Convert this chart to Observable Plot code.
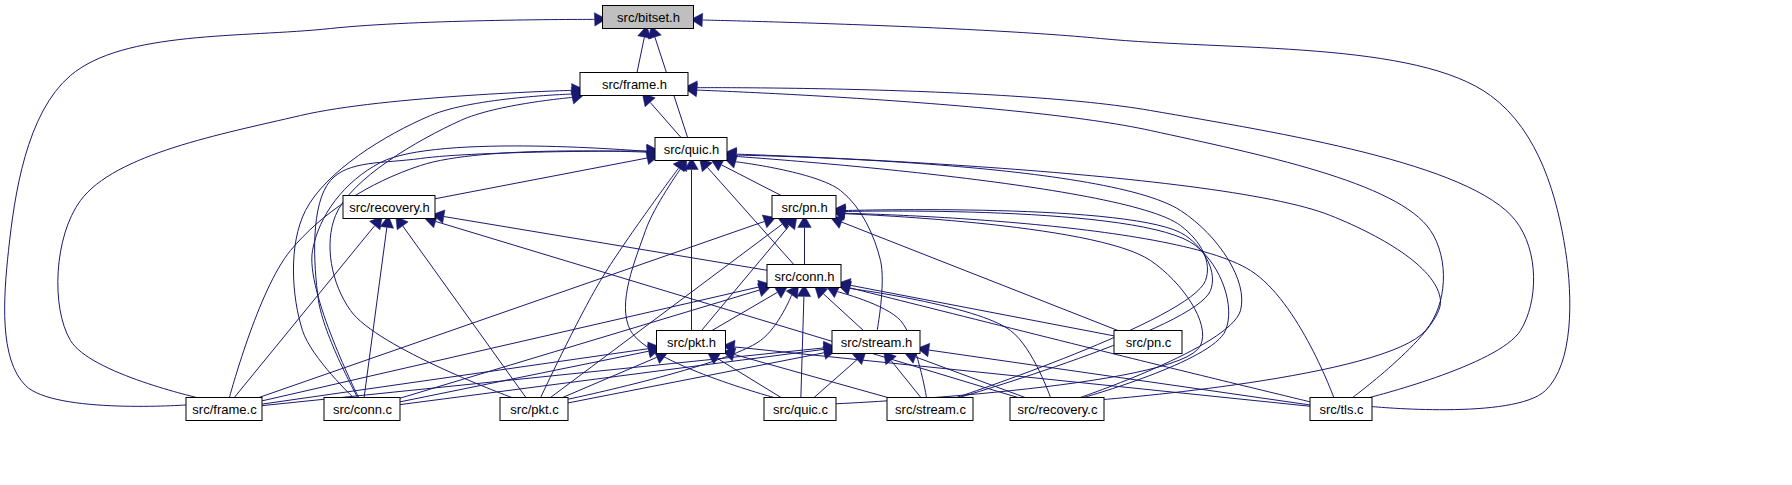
<!doctype html>
<html>
<head>
<style>body{margin:0;background:#fff}</style>
</head>
<body>
<div id="graph"></div>
<script src="https://cdn.jsdelivr.net/npm/d3@7"></script>
<script src="https://cdn.jsdelivr.net/npm/@observablehq/plot@0.6"></script>
<script>
// nodes: name, center x, center y, box width
const names = ["src/bitset.h","src/frame.h","src/quic.h","src/recovery.h","src/pn.h","src/conn.h","src/pkt.h","src/stream.h","src/pn.c","src/frame.c","src/conn.c","src/pkt.c","src/quic.c","src/stream.c","src/recovery.c","src/tls.c"];
const nodeX = [648,634,691,389,804,804,691,876,1148,224,362,534,800,930,1057,1341];
const nodeY = [17,84,149,207,207,276,342,342,342,409,409,409,409,409,409,409];
const nodeW = [91,108,72,92,64,74,69,88,68,76,76,68,72,86,94,62];
const boxH = 23;

// edges: [including file, included header, bend points from file to header]
const edges = [
  ["src/frame.h","src/bitset.h",[]],
  ["src/quic.h","src/bitset.h",[]],
  ["src/frame.c","src/bitset.h",[[25,385],[8,250],[70,75],[330,28]]],
  ["src/tls.c","src/bitset.h",[[1545,390],[1565,250],[1490,95],[1100,38]]],
  ["src/quic.h","src/frame.h",[]],
  ["src/frame.c","src/frame.h",[[70,340],[80,200],[300,115]]],
  ["src/conn.c","src/frame.h",[[302,330],[305,210],[430,115]]],
  ["src/pkt.c","src/frame.h",[[350,310],[335,215],[460,120]]],
  ["src/recovery.c","src/frame.h",[[1425,330],[1430,230],[1150,130]]],
  ["src/tls.c","src/frame.h",[[1520,330],[1515,220],[1150,110]]],
  ["src/recovery.h","src/quic.h",[]],
  ["src/pn.h","src/quic.h",[]],
  ["src/conn.h","src/quic.h",[]],
  ["src/pkt.h","src/quic.h",[]],
  ["src/stream.h","src/quic.h",[[880,260],[840,190]]],
  ["src/frame.c","src/quic.h",[[290,250],[420,165]]],
  ["src/conn.c","src/quic.h",[[312,250],[380,162]]],
  ["src/conn.c","src/quic.h",[[318,300],[330,180],[420,158]]],
  ["src/pkt.c","src/quic.h",[[600,280]]],
  ["src/quic.c","src/quic.h",[[630,330],[645,230]]],
  ["src/recovery.c","src/quic.h",[[1240,310],[1180,210]]],
  ["src/tls.c","src/quic.h",[[1440,300],[1330,215]]],
  ["src/stream.c","src/quic.h",[[1205,280],[1180,225]]],
  ["src/conn.h","src/recovery.h",[]],
  ["src/frame.c","src/recovery.h",[]],
  ["src/conn.c","src/recovery.h",[]],
  ["src/pkt.c","src/recovery.h",[]],
  ["src/recovery.c","src/recovery.h",[]],
  ["src/conn.h","src/pn.h",[]],
  ["src/pkt.h","src/pn.h",[]],
  ["src/frame.c","src/pn.h",[]],
  ["src/pkt.c","src/pn.h",[]],
  ["src/pn.c","src/pn.h",[]],
  ["src/tls.c","src/pn.h",[[1250,270]]],
  ["src/quic.c","src/pn.h",[[1200,345],[1150,260]]],
  ["src/recovery.c","src/pn.h",[[1225,330],[1195,245]]],
  ["src/stream.c","src/pn.h",[[1210,290],[1185,235]]],
  ["src/pkt.h","src/conn.h",[]],
  ["src/stream.h","src/conn.h",[]],
  ["src/pn.c","src/conn.h",[]],
  ["src/frame.c","src/conn.h",[]],
  ["src/conn.c","src/conn.h",[]],
  ["src/pkt.c","src/conn.h",[[760,340]]],
  ["src/quic.c","src/conn.h",[]],
  ["src/stream.c","src/conn.h",[[900,320]]],
  ["src/recovery.c","src/conn.h",[[1010,330]]],
  ["src/tls.c","src/conn.h",[[1140,360]]],
  ["src/frame.c","src/pkt.h",[]],
  ["src/conn.c","src/pkt.h",[]],
  ["src/pkt.c","src/pkt.h",[]],
  ["src/quic.c","src/pkt.h",[]],
  ["src/stream.c","src/pkt.h",[]],
  ["src/tls.c","src/pkt.h",[]],
  ["src/frame.c","src/stream.h",[]],
  ["src/conn.c","src/stream.h",[]],
  ["src/pkt.c","src/stream.h",[]],
  ["src/quic.c","src/stream.h",[]],
  ["src/stream.c","src/stream.h",[]],
  ["src/recovery.c","src/stream.h",[]],
  ["src/tls.c","src/stream.h",[]]
];

const nodes = names.map((n, i) => ({name: n, x: nodeX[i], y: nodeY[i], w: nodeW[i], fill: i === 0 ? "#bfbfbf" : "white"}));
const byName = new Map(nodes.map(d => [d.name, d]));

// point where the ray from the box centre toward (px,py) leaves the box
function clip(nd, px, py) {
  const dx = px - nd.x, dy = py - nd.y;
  const sx = Math.abs(dx) > 0 ? (nd.w / 2) / Math.abs(dx) : Infinity;
  const sy = Math.abs(dy) > 0 ? (boxH / 2) / Math.abs(dy) : Infinity;
  const s = Math.min(sx, sy);
  return [nd.x + dx * s, nd.y + dy * s];
}

const linePts = [];
const heads = [];
edges.forEach(([from, to, via], k) => {
  const a = byName.get(from), b = byName.get(to);
  const first = via.length ? via[0] : [b.x, b.y];
  const last = via.length ? via[via.length - 1] : [a.x, a.y];
  const p0 = clip(a, first[0], first[1]);
  const p1 = clip(b, last[0], last[1]);
  const dx = p1[0] - last[0], dy = p1[1] - last[1];
  const len = Math.hypot(dx, dy);
  const end = [p1[0] - dx / len * 9, p1[1] - dy / len * 9];
  [p0, ...via, end].forEach(p => linePts.push({x: p[0], y: p[1], k}));
  heads.push({x: p1[0] - dx / len * 4.5, y: p1[1] - dy / len * 4.5, rot: Math.atan2(dx, -dy) * 180 / Math.PI});
});

const navy = "#191970";
const plot = Plot.plot({
  width: 1792, height: 485,
  margin: 0,
  x: {domain: [0, 1792], axis: null},
  y: {domain: [0, 485], axis: null, reverse: true},
  style: {fontFamily: "'Liberation Sans', Arial, sans-serif", background: "white"},
  marks: [
    Plot.line(linePts, {x: "x", y: "y", z: "k", stroke: navy, strokeWidth: 1, curve: "catmull-rom"}),
    Plot.dot(heads, {x: "x", y: "y", symbol: "triangle", r: 5, fill: navy, stroke: navy, strokeWidth: 0.5, rotate: "rot"}),
    Plot.rect(nodes, {x1: d => d.x - d.w / 2, x2: d => d.x + d.w / 2, y1: d => d.y - boxH / 2, y2: d => d.y + boxH / 2, fill: "fill", stroke: "black", strokeWidth: 1}),
    Plot.text(nodes, {x: "x", y: "y", text: "name", fontSize: 13, fill: "black"})
  ]
});
document.querySelector("#graph").append(plot);
</script>
</body>
</html>
